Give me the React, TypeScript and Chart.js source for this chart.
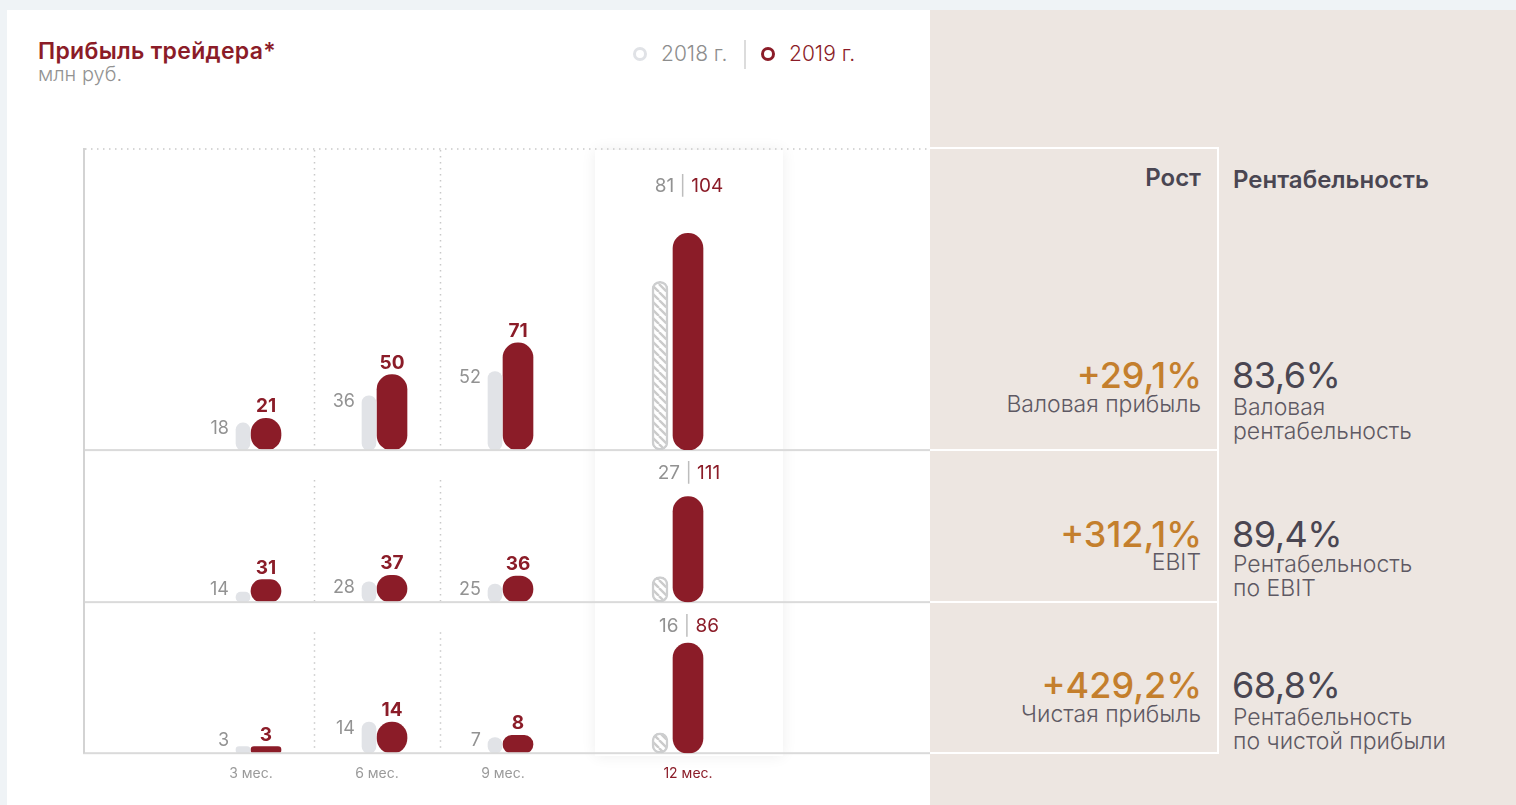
import React, { useEffect, useRef } from "react";
import { Chart, registerables } from "chart.js";

Chart.register(...registerables);

// ---------- data ----------
const PERIODS = ["3 мес.", "6 мес.", "9 мес."];
const YEAR_PERIOD = ["12 мес."];
const YEARS = ["2018 г.", "2019 г."];

const GROSS_2018 = [18, 36, 52];
const GROSS_2019 = [21, 50, 71];
const EBIT_2018 = [14, 28, 25];
const EBIT_2019 = [31, 37, 36];
const NET_2018 = [3, 14, 7];
const NET_2019 = [3, 14, 8];

// 12 months: gross profit, EBIT, net profit
const YEAR_2018 = [81, 27, 16];
const YEAR_2019 = [104, 111, 86];

const GROWTH = ["+29,1%", "+312,1%", "+429,2%"];
const METRIC_NAMES = ["Валовая прибыль", "EBIT", "Чистая прибыль"];
const MARGINS = ["83,6%", "89,4%", "68,8%"];
const MARGIN_NAMES = [
  ["Валовая", "рентабельность"],
  ["Рентабельность", "по EBIT"],
  ["Рентабельность", "по чистой прибыли"],
];

// ---------- scale configuration ----------
const PERIOD_MAX = [200, 210, 68];
const YEAR_MAX = [145, 160, 118];
const PANEL_WEIGHTS = [302, 152, 151];

// ---------- style ----------
const FONT = "Inter, 'Noto Sans', sans-serif";
const RED = "#8b1c28";
const GREY_BAR = "#e1e3e7";
const GRID = "#dadada";
const DOT = "#c9c9c9";
const GREY_TEXT = "#929292";
const DARK = "#4a4652";
const ORANGE = "#c47f2d";
const BEIGE = "#ede6e1";
const SEP_OFFSET = [0, 28, 28];
const TOTAL_LABEL_DY = [38, 23, 24];
const CANVAS_H = 646;

function makeHatch(): CanvasPattern | string {
  const c = document.createElement("canvas");
  c.width = 8;
  c.height = 8;
  const g = c.getContext("2d");
  if (!g) return "#fff";
  g.fillStyle = "#ffffff";
  g.fillRect(0, 0, 8, 8);
  g.strokeStyle = "#cbcbcb";
  g.lineWidth = 2.4;
  g.beginPath();
  for (const k of [-8, 0, 8]) {
    g.moveTo(k, 0);
    g.lineTo(k + 8, 8);
  }
  g.stroke();
  return g.createPattern(c, "repeat") || "#fff";
}

function yScales(maxes: number[]) {
  const s: any = {};
  maxes.forEach((m, p) => {
    s["y" + p] = {
      type: "linear",
      display: false,
      position: "left",
      stack: "rows",
      stackWeight: PANEL_WEIGHTS[p],
      weight: 3 - p,
      min: 0,
      max: m,
    };
  });
  return s;
}

const periodDecor = {
  id: "periodDecor",
  afterDatasetsDraw(chart: any) {
    const ctx = chart.ctx as CanvasRenderingContext2D;
    const xs = chart.scales.x;
    const ys = [0, 1, 2].map((p) => chart.scales["y" + p]);
    ctx.save();
    // dotted separators
    ctx.strokeStyle = DOT;
    ctx.lineWidth = 1.5;
    ctx.setLineDash([1.5, 4.5]);
    for (let i = 0; i < xs.ticks.length - 1; i++) {
      const sx = Math.round((xs.getPixelForTick(i) + xs.getPixelForTick(i + 1)) / 2) + 0.5;
      ys.forEach((y: any, p: number) => {
        ctx.beginPath();
        ctx.moveTo(sx, y.top + SEP_OFFSET[p] + 2);
        ctx.lineTo(sx, y.bottom - 1);
        ctx.stroke();
      });
    }
    ctx.beginPath();
    ctx.moveTo(2, ys[0].top + 1);
    ctx.lineTo(chart.width, ys[0].top + 1);
    ctx.stroke();
    ctx.setLineDash([]);
    // solid baselines and left axis
    ctx.fillStyle = GRID;
    ys.forEach((y: any) => ctx.fillRect(0, y.bottom - 1, chart.width, 2));
    ctx.fillStyle = "#d3d3d3";
    ctx.fillRect(0, ys[0].top, 2, ys[2].bottom - ys[0].top);

    // value labels
    chart.data.datasets.forEach((ds: any, di: number) => {
      const meta = chart.getDatasetMeta(di);
      meta.data.forEach((bar: any, i: number) => {
        const { x, y, base, width } = bar.getProps(["x", "y", "base", "width"], true);
        const v = ds.data[i];
        if (ds.stack === "s2019") {
          ctx.font = `700 19px ${FONT}`;
          ctx.fillStyle = RED;
          ctx.textAlign = "center";
          ctx.textBaseline = "alphabetic";
          ctx.fillText(String(v), x, y - 6);
        } else {
          ctx.font = `400 18px ${FONT}`;
          ctx.fillStyle = GREY_TEXT;
          ctx.textAlign = "right";
          ctx.textBaseline = "middle";
          ctx.fillText(String(v), x - width / 2 - 7, Math.min(y + 6, base - 13));
        }
      });
    });
    ctx.restore();
  },
};

const yearDecor = {
  id: "yearDecor",
  afterDatasetsDraw(chart: any) {
    const ctx = chart.ctx as CanvasRenderingContext2D;
    const cx = chart.scales.x.getPixelForTick(0) + 16;
    ctx.save();
    ctx.font = `400 19px ${FONT}`;
    ctx.textBaseline = "middle";
    ctx.textAlign = "left";
    for (let p = 0; p < 3; p++) {
      const y = chart.scales["y" + p];
      const cy = y.top + TOTAL_LABEL_DY[p];
      const parts: [string, string][] = [
        [String(chart.data.datasets[2 * p].data[0]), GREY_TEXT],
        [" | ", "#bdbdbd"],
        [String(chart.data.datasets[2 * p + 1].data[0]), RED],
      ];
      const total = parts.reduce((s, [t]) => s + ctx.measureText(t).width, 0);
      let px = cx - total / 2;
      for (const [t, c] of parts) {
        ctx.fillStyle = c;
        ctx.fillText(t, px, cy);
        px += ctx.measureText(t).width;
      }
    }
    ctx.restore();
  },
};

function periodConfig(): any {
  const s18 = [GROSS_2018, EBIT_2018, NET_2018];
  const s19 = [GROSS_2019, EBIT_2019, NET_2019];
  const datasets: any[] = [];
  s18.forEach((d, p) => {
    datasets.push({
      label: YEARS[0],
      data: d,
      stack: "s2018",
      yAxisID: "y" + p,
      backgroundColor: GREY_BAR,
      barThickness: 16,
      maxBarThickness: 14,
      borderRadius: 100,
      borderSkipped: false,
    });
    datasets.push({
      label: YEARS[1],
      data: s19[p],
      stack: "s2019",
      yAxisID: "y" + p,
      backgroundColor: RED,
      barThickness: 30,
      borderRadius: 100,
      borderSkipped: false,
    });
  });
  return {
    type: "bar",
    data: { labels: PERIODS, datasets },
    options: {
      responsive: false,
      animation: false,
      events: [],
      devicePixelRatio: 1,
      layout: { padding: { left: 105, right: 364, top: 0, bottom: 0 } },
      plugins: { legend: { display: false }, tooltip: { enabled: false } },
      scales: {
        x: {
          type: "category",
          offset: true,
          grid: { display: false, drawTicks: false },
          border: { display: false },
          ticks: { color: "#9a9a9a", font: { size: 14, family: FONT }, padding: 12 },
        },
        ...yScales(PERIOD_MAX),
      },
    },
    plugins: [periodDecor],
  };
}

function yearConfig(hatch: any): any {
  const datasets: any[] = [];
  YEAR_2018.forEach((v, p) => {
    datasets.push({
      label: YEARS[0],
      data: [v],
      stack: "s2018",
      yAxisID: "y" + p,
      backgroundColor: hatch,
      borderColor: "#cdcecf",
      borderWidth: 2.5,
      barThickness: 26,
      maxBarThickness: 16,
      borderRadius: 100,
      borderSkipped: false,
    });
    datasets.push({
      label: YEARS[1],
      data: [YEAR_2019[p]],
      stack: "s2019",
      yAxisID: "y" + p,
      backgroundColor: RED,
      barThickness: 30,
      borderRadius: 100,
      borderSkipped: false,
    });
  });
  return {
    type: "bar",
    data: { labels: YEAR_PERIOD, datasets },
    options: {
      responsive: false,
      animation: false,
      events: [],
      devicePixelRatio: 1,
      layout: { padding: { left: 0, right: 32, top: 0, bottom: 0 } },
      plugins: { legend: { display: false }, tooltip: { enabled: false } },
      scales: {
        x: {
          type: "category",
          offset: true,
          grid: { display: false, drawTicks: false },
          border: { display: false },
          ticks: { color: RED, font: { size: 14, family: FONT }, padding: 12, labelOffset: 15 },
        },
        ...yScales(YEAR_MAX),
      },
    },
    plugins: [yearDecor],
  };
}

type TP = {
  x: number;
  y: number;
  size: number;
  weight?: number;
  color: string;
  right?: boolean;
  lh?: number;
  ls?: number;
  children: React.ReactNode;
};

function Txt({ x, y, size, weight = 400, color, right, lh, ls, children }: TP) {
  const L = lh ?? Math.round(size * 1.25);
  const style: React.CSSProperties = {
    position: "absolute",
    top: y - L / 2,
    fontSize: size,
    fontWeight: weight,
    color,
    lineHeight: `${L}px`,
    whiteSpace: "nowrap",
    letterSpacing: ls ? `${ls}px` : undefined,
  };
  if (right) style.right = 1516 - x;
  else style.left = x;
  return <div style={style}>{children}</div>;
}

function Ring({ x, y, color }: { x: number; y: number; color: string }) {
  return (
    <div
      style={{
        position: "absolute",
        left: x - 7,
        top: y - 7,
        width: 14,
        height: 14,
        borderRadius: "50%",
        border: `3.5px solid ${color}`,
        boxSizing: "border-box",
      }}
    />
  );
}

const ROW_VALUE_Y = [375, 534, 685];
const ROW_NAME_Y = [404, 562, 714];
const ROW_MNAME_Y = [407, 564, 717];
const ROW_LINES_Y = [450, 602, 753];

export default function App() {
  const refA = useRef<HTMLCanvasElement>(null);
  const refB = useRef<HTMLCanvasElement>(null);

  useEffect(() => {
    document.body.style.margin = "0";
    Chart.defaults.font.family = FONT;
    const a = new Chart(refA.current as HTMLCanvasElement, periodConfig());
    const b = new Chart(refB.current as HTMLCanvasElement, yearConfig(makeHatch()));
    return () => {
      a.destroy();
      b.destroy();
    };
  }, []);

  return (
    <div
      style={{
        position: "relative",
        width: 1516,
        height: 805,
        overflow: "hidden",
        background: "#eff3f6",
        fontFamily: FONT,
      }}
    >
      <div style={{ position: "absolute", left: 7, top: 10, width: 923, height: 795, background: "#fff" }} />
      <div style={{ position: "absolute", left: 930, top: 10, width: 586, height: 795, background: BEIGE }} />

      <Txt x={38} y={51} size={23} weight={600} color={RED} ls={0.3}>
        Прибыль трейдера*
      </Txt>
      <Txt x={38} y={74} size={20} weight={300} color={GREY_TEXT}>
        млн руб.
      </Txt>

      <Ring x={640} y={54} color="#e0e2e6" />
      <Txt x={661} y={54} size={21} weight={300} color="#8d8d8d">
        {YEARS[0]}
      </Txt>
      <div style={{ position: "absolute", left: 744, top: 40, width: 2, height: 29, background: "#dcdcdc" }} />
      <Ring x={768} y={54} color={RED} />
      <Txt x={789} y={54} size={21} weight={300} color={RED}>
        {YEARS[1]}
      </Txt>

      <div
        style={{
          position: "absolute",
          left: 595,
          top: 150,
          width: 188,
          height: 606,
          background: "#fff",
          boxShadow: "0 0 14px rgba(0,0,0,0.07)",
        }}
      />
      <canvas
        ref={refA}
        width={847}
        height={CANVAS_H}
        style={{ position: "absolute", left: 83, top: 148, width: 847, height: CANVAS_H }}
      />
      <canvas
        ref={refB}
        width={188}
        height={CANVAS_H}
        style={{ position: "absolute", left: 595, top: 148, width: 188, height: CANVAS_H }}
      />

      {/* right panel grid */}
      <div style={{ position: "absolute", left: 930, top: 147, width: 288, height: 2, background: "#fff" }} />
      <div style={{ position: "absolute", left: 1217, top: 147, width: 2, height: 607, background: "#fff" }} />
      {ROW_LINES_Y.map((y) => (
        <div key={y} style={{ position: "absolute", left: 930, top: y - 1, width: 288, height: 2, background: "#fff" }} />
      ))}

      <Txt x={1201} y={178} size={24} weight={600} color={DARK} right>
        Рост
      </Txt>
      <Txt x={1233} y={180} size={24} weight={600} color={DARK}>
        Рентабельность
      </Txt>

      {GROWTH.map((g, i) => (
        <React.Fragment key={g}>
          <Txt x={1202} y={ROW_VALUE_Y[i]} size={36} weight={500} color={ORANGE} right lh={40}>
            {g}
          </Txt>
          <Txt x={1201} y={ROW_NAME_Y[i]} size={23} weight={300} color="#5e5963" right lh={24}>
            {METRIC_NAMES[i]}
          </Txt>
          <Txt x={1232} y={ROW_VALUE_Y[i]} size={36} weight={400} color={DARK} lh={40} ls={-0.5}>
            {MARGINS[i]}
          </Txt>
          {MARGIN_NAMES[i].map((t, k) => (
            <Txt key={t} x={1233} y={ROW_MNAME_Y[i] + k * 24} size={23} weight={300} color="#5e5963" lh={24}>
              {t}
            </Txt>
          ))}
        </React.Fragment>
      ))}
    </div>
  );
}
